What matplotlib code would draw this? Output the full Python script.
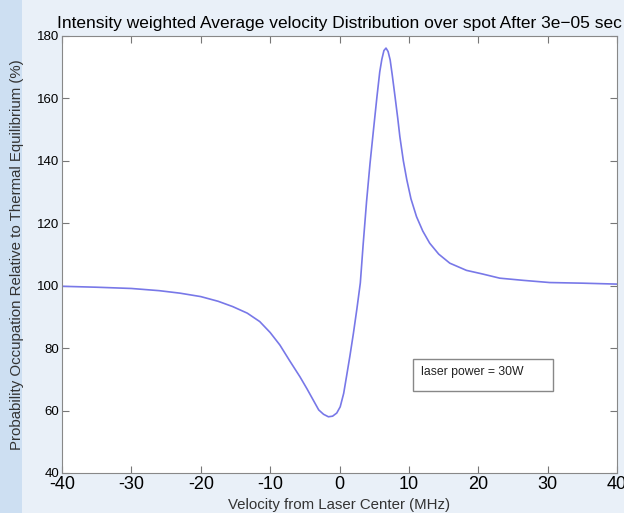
import matplotlib
matplotlib.use("Agg")
import matplotlib.pyplot as plt
from matplotlib.patches import Rectangle

plt.rcParams['font.family'] = ['Liberation Sans', 'DejaVu Sans']
plt.rcParams['axes.unicode_minus'] = False

# values
velocity = [-40, -35, -30, -26, -23, -20, -17.5, -15.4, -13.3, -11.5, -10, -8.6,
            -7.2, -5.7, -4.7, -3.8, -3.0, -2.3, -1.6, -1.0, -0.4, 0.1, 0.6, 1.0,
            1.5, 2.0, 2.5, 3.0, 3.4, 3.9, 4.4, 4.9, 5.4, 5.8, 6.1, 6.4, 6.7, 7.0,
            7.3, 7.6, 8.0, 8.4, 8.7, 9.2, 9.7, 10.3, 11.1, 12.0, 13.0, 14.3, 15.9,
            18.3, 20.5, 23.1, 26.5, 30.3, 35, 40]
occupation = [99.8, 99.5, 99.1, 98.4, 97.6, 96.5, 95.0, 93.3, 91.2, 88.5, 85.0, 81.0,
              76.0, 70.8, 67.0, 63.4, 60.2, 58.8, 58.0, 58.2, 59.2, 61.2, 65.5, 70.8,
              77.5, 84.7, 92.5, 100.9, 113.0, 127.0, 139.2, 150.0, 160.6, 168.5, 172.5, 175.3, 176.1, 175.0,
              172.3, 167.5, 160.6, 153.5, 147.7, 140.0, 133.9, 127.8, 122.1, 117.5, 113.6, 110.1, 107.2,
              104.9, 103.8, 102.4, 101.7, 101.0, 100.8, 100.5]

xticks = [-40, -30, -20, -10, 0, 10, 20, 30, 40]
yticks = [40, 60, 80, 100, 120, 140, 160, 180]

fig = plt.figure(figsize=(6.24, 5.13), dpi=100, facecolor='#e9f0f8')
# bluish strip down the left edge of the background
fig.patches.append(Rectangle((0, 0), 0.035, 1, transform=fig.transFigure,
                             facecolor='#cddff2', edgecolor='none', zorder=-1))
ax = fig.add_axes([0.0994, 0.078, 0.8894, 0.852])

ax.plot(velocity, occupation, color='#7878e8', lw=1.2)

ax.set_xlim(-40, 40)
ax.set_ylim(40, 180)
ax.set_xticks(xticks)
ax.set_yticks(yticks)
ax.tick_params(axis='x', labelsize=13, pad=2)
ax.tick_params(axis='y', labelsize=9.5, pad=2)
ax.tick_params(direction='in', length=5, color='#777777', top=True, right=True)
for s in ax.spines.values():
    s.set_color('#888888')

ax.set_title('Intensity weighted Average velocity Distribution over spot After 3e\u221205 sec',
             fontsize=12.5, pad=6)
ax.set_xlabel('Velocity from Laser Center (MHz)', fontsize=10.8, color='#333333', labelpad=4)
ax.set_ylabel('Probability Occupation Relative to Thermal Equilibrium (%)', fontsize=10.8,
              color='#333333')
ax.yaxis.set_label_coords(-0.069, 0.5)

# annotation box
ax.add_patch(Rectangle((10.6, 66.3), 20.2, 10.2, facecolor='white', edgecolor='#888888',
                       lw=1, zorder=3))
ax.text(11.75, 72.3, 'laser power = 30W', fontsize=8.8, va='center', ha='left',
        color='#222222', zorder=4)

fig.savefig('out.png', dpi=100, facecolor=fig.get_facecolor())
